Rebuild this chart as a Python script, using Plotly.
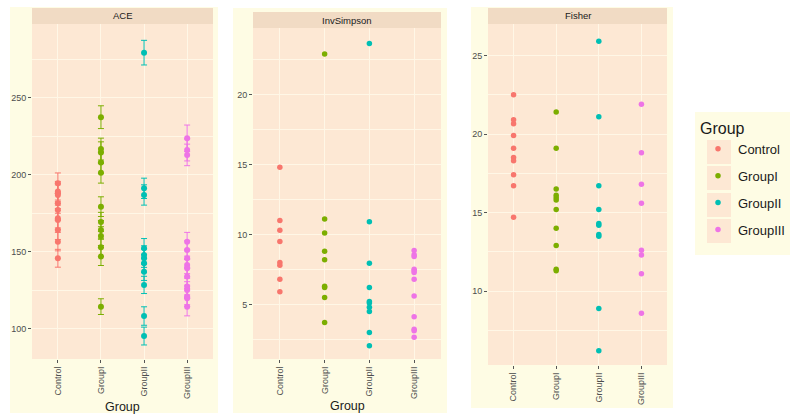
import plotly.graph_objects as go

W, H = 798, 420

groups = ["Control", "GroupI", "GroupII", "GroupIII"]
colors = ["#F8766D", "#7CAE00", "#00BFB4", "#EE74E6"]

# ACE (with error bars)
ace_control = [194.6, 189.2, 188.1, 187.0, 181.6, 177.3, 171.9, 170.8, 164.3, 156.7, 145.9]
ace_control_se = [6.7, 6.6, 6.6, 6.6, 6.5, 6.4, 6.3, 6.3, 6.2, 6.0, 5.8]
ace_g1 = [237.5, 216.8, 214.5, 208.0, 201.5, 179.4, 169.5, 164.3, 160.3, 153.0, 147.0, 114.5]
ace_g1_se = [7.4, 7.1, 7.0, 6.9, 6.8, 6.4, 6.2, 6.1, 6.1, 5.9, 5.8, 5.1]
ace_g2 = [279.4, 191.3, 187.0, 152.4, 148.0, 145.9, 142.6, 137.2, 128.6, 108.4, 95.4]
ace_g2_se = [8.0, 6.6, 6.6, 6.3, 6.0, 5.9, 5.8, 5.7, 5.6, 6.0, 5.8]
ace_g3 = [223.8, 216.2, 213.0, 156.7, 151.3, 145.9, 141.6, 139.4, 134.0, 127.5, 125.3, 121.0, 119.9, 114.5]
ace_g3_se = [8.6, 7.1, 7.0, 6.0, 5.9, 5.8, 5.7, 5.7, 5.6, 5.4, 5.4, 5.3, 5.3, 6.0]

# InvSimpson
inv_control = [14.8, 11.0, 10.3, 9.5, 8.0, 7.8, 6.8, 5.9]
inv_g1 = [22.9, 11.1, 10.1, 8.8, 8.2, 6.3, 6.2, 5.5, 3.7]
inv_g2 = [23.65, 10.9, 7.95, 6.2, 5.2, 5.1, 4.8, 4.5, 3.0, 2.05]
inv_g3 = [8.86, 8.55, 8.43, 7.52, 7.4, 7.28, 6.8, 5.6, 4.12, 3.23, 3.11, 2.66]

# Fisher
fis_control = [22.5, 20.9, 20.65, 19.9, 19.1, 18.5, 18.3, 17.4, 16.7, 14.7]
fis_g1 = [21.4, 19.1, 16.5, 16.1, 15.95, 15.8, 15.2, 14.0, 12.9, 11.4, 11.3]
fis_g2 = [25.9, 21.1, 16.7, 15.2, 14.3, 14.2, 13.6, 13.5, 8.9, 6.2]
fis_g3 = [21.9, 18.8, 16.8, 15.6, 12.6, 12.3, 11.1, 8.6]

panel_titles = ["ACE", "InvSimpson", "Fisher"]

ace = [ace_control, ace_g1, ace_g2, ace_g3]
ace_se = [ace_control_se, ace_g1_se, ace_g2_se, ace_g3_se]
inv = [inv_control, inv_g1, inv_g2, inv_g3]
fis = [fis_control, fis_g1, fis_g2, fis_g3]

OUTER = "#FEFCE4"
PANEL = "#FDE8D4"
STRIP = "#F1DBC4"
GRID = "#FFF7E6"
FONT = "Liberation Sans, Arial, sans-serif"

fig = go.Figure()

for gi, g in enumerate(groups):
    fig.add_trace(go.Scatter(
        x=[g] * len(ace[gi]), y=ace[gi], mode="markers",
        marker=dict(color=colors[gi], size=6),
        error_y=dict(type="data", array=ace_se[gi], visible=True,
                     color=colors[gi], thickness=1, width=3),
        xaxis="x", yaxis="y", legendgroup=g, showlegend=False, name=g))
    fig.add_trace(go.Scatter(
        x=[g] * len(inv[gi]), y=inv[gi], mode="markers",
        marker=dict(color=colors[gi], size=5.5),
        xaxis="x2", yaxis="y2", legendgroup=g, showlegend=True, name=g))
    fig.add_trace(go.Scatter(
        x=[g] * len(fis[gi]), y=fis[gi], mode="markers",
        marker=dict(color=colors[gi], size=5.5),
        xaxis="x3", yaxis="y3", legendgroup=g, showlegend=False, name=g))


def px(x):
    return x / W


def py(y):
    return 1 - y / H


panels = [
    dict(outer=(10, 218, 7, 413), plot=(32, 213, 24, 359), strip=8),
    dict(outer=(233, 447, 8, 413), plot=(253, 441, 28, 359), strip=12),
    dict(outer=(471, 673, 7, 408), plot=(488, 667, 24, 365), strip=8),
]
yranges = [[80.5, 298], [1.1, 24.75], [5.3, 27.0]]
ydticks = [50, 5, 5]

shapes = []
annotations = []
axis_common = dict(
    showline=False, zeroline=False, ticks="outside", ticklen=3, tickwidth=1,
    tickcolor="#555555", tickfont=dict(size=9, color="#4D4D4D", family=FONT),
    gridcolor=GRID, gridwidth=1.1,
)

for i, p in enumerate(panels):
    ox0, ox1, oy0, oy1 = p["outer"]
    x0, x1, yt, yb = p["plot"]
    shapes.append(dict(type="rect", xref="paper", yref="paper", layer="below",
                       x0=px(ox0), x1=px(ox1), y0=py(oy1), y1=py(oy0),
                       fillcolor=OUTER, line=dict(width=0)))
    shapes.append(dict(type="rect", xref="paper", yref="paper", layer="below",
                       x0=px(x0), x1=px(x1), y0=py(yb), y1=py(yt),
                       fillcolor=PANEL, line=dict(width=0)))
    shapes.append(dict(type="rect", xref="paper", yref="paper", layer="below",
                       x0=px(x0), x1=px(x1), y0=py(yt), y1=py(p["strip"]),
                       fillcolor=STRIP, line=dict(width=0)))
    annotations.append(dict(text=panel_titles[i], xref="paper", yref="paper",
                            x=px((x0 + x1) / 2), y=py((yt + p["strip"]) / 2),
                            showarrow=False, xanchor="center", yanchor="middle",
                            font=dict(size=9.5, color="#1A1A1A", family=FONT)))
    sfx = "" if i == 0 else str(i + 1)
    fig.layout["xaxis" + sfx] = dict(
        axis_common, domain=[px(x0), px(x1)], anchor="y" + sfx,
        type="category", categoryorder="array", categoryarray=groups,
        range=[-0.6, 3.6], tickangle=-90, showgrid=True, fixedrange=True)
    fig.layout["yaxis" + sfx] = dict(
        axis_common, domain=[py(yb), py(yt)], anchor="x" + sfx,
        range=yranges[i], dtick=ydticks[i], tick0=0, showgrid=True,
        minor=dict(showgrid=True, gridcolor=GRID, gridwidth=0.5,
                   dtick=ydticks[i] / 2, tick0=0, ticks=""))

# x-axis titles
annotations.append(dict(text="Group", xref="paper", yref="paper", x=px(122.5), y=py(407),
                        showarrow=False, xanchor="center", yanchor="middle",
                        font=dict(size=12.5, color="#1A1A1A", family=FONT)))
annotations.append(dict(text="Group", xref="paper", yref="paper", x=px(347), y=py(406),
                        showarrow=False, xanchor="center", yanchor="middle",
                        font=dict(size=12.5, color="#1A1A1A", family=FONT)))

# legend background and key boxes
shapes.append(dict(type="rect", xref="paper", yref="paper", layer="below",
                   x0=px(695), x1=px(790), y0=py(255), y1=py(112),
                   fillcolor=OUTER, line=dict(width=0)))
for yc in [152, 178, 205, 231]:
    shapes.append(dict(type="rect", xref="paper", yref="paper", layer="below",
                       x0=px(707), x1=px(731), y0=py(yc + 12), y1=py(yc - 12),
                       fillcolor=PANEL, line=dict(width=0)))

fig.update_layout(
    width=W, height=H, margin=dict(l=0, r=0, t=0, b=0),
    paper_bgcolor="white", plot_bgcolor="rgba(0,0,0,0)",
    shapes=shapes, annotations=annotations,
    font=dict(family=FONT),
    legend=dict(x=px(698), y=py(113), xanchor="left", yanchor="top",
                bgcolor="rgba(0,0,0,0)", traceorder="grouped", tracegroupgap=7,
                title=dict(text="Group", font=dict(size=16, color="#1A1A1A", family=FONT)),
                font=dict(size=13, color="#1A1A1A", family=FONT),
                itemwidth=30),
)

fig.write_html("out.html", config={"displayModeBar": False},
               post_script="document.body.style.margin='0';document.body.style.overflow='hidden';")
